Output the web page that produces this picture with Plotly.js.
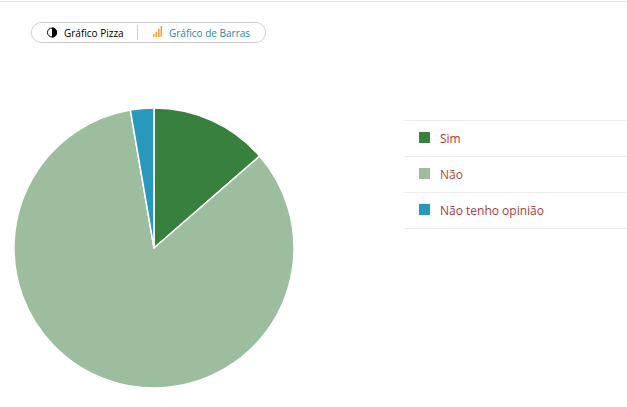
<!DOCTYPE html>
<html>
<head>
<meta charset="utf-8">
<script src="https://cdn.plot.ly/plotly-3.0.1.min.js"></script>
<style>html,body{margin:0;padding:0;background:#fff;overflow:hidden}#c{width:627px;height:407px}</style>
</head>
<body>
<div id="c"></div>
<script>
var categories = ["Sim", "Não", "Não tenho opinião"];
var values = [13.6, 83.7, 2.7];
var colors = ["#38803d", "#9cbe9e", "#2898bc"];
var labelColors = ["#c5302f", "#b0492f", "#b03a3a"];
var toolbarLabels = ["Gráfico Pizza", "Gráfico de Barras"];
var barIconHeights = [3, 5, 8, 11];

var W = 627, H = 407;
function px(x){return x / W;}
function py(y){return 1 - y / H;}
function P(x,y){return px(x).toFixed(5) + "," + py(y).toFixed(5);}
function paperShape(o){o.xref = "paper"; o.yref = "paper"; o.layer = o.layer || "above"; return o;}
function hline(x0,x1,y,color,w){
  return paperShape({type:"line",x0:px(x0),x1:px(x1),y0:py(y),y1:py(y),line:{color:color,width:w}});
}
function rect(x0,y0,x1,y1,color){
  return paperShape({type:"rect",x0:px(x0),x1:px(x1),y0:py(y0),y1:py(y1),fillcolor:color,line:{width:0}});
}
function pill(x0,y0,x1,y1){
  var r=(y1-y0)/2;
  var d="M"+P(x0+r,y0)+" L"+P(x1-r,y0)+" C"+P(x1-r*0.45,y0)+" "+P(x1,y0+r*0.45)+" "+P(x1,y0+r)+
        " C"+P(x1,y1-r*0.45)+" "+P(x1-r*0.45,y1)+" "+P(x1-r,y1)+" L"+P(x0+r,y1)+
        " C"+P(x0+r*0.45,y1)+" "+P(x0,y1-r*0.45)+" "+P(x0,y0+r)+
        " C"+P(x0,y0+r*0.45)+" "+P(x0+r*0.45,y0)+" "+P(x0+r,y0)+" Z";
  return paperShape({type:"path",path:d,line:{color:"#cfcfcf",width:1},fillcolor:"#fff"});
}
function halfDisc(cx,cy,r,side,color){
  var k=0.5523*r, s=side;
  var d="M"+P(cx,cy-r)+" C"+P(cx+s*k,cy-r)+" "+P(cx+s*r,cy-k)+" "+P(cx+s*r,cy)+
        " C"+P(cx+s*r,cy+k)+" "+P(cx+s*k,cy+r)+" "+P(cx,cy+r)+" Z";
  return paperShape({type:"path",path:d,line:{width:0},fillcolor:color});
}

var shapes = [
  hline(0,W,1.5,"#e4e4e4",1),
  pill(31.5,22.5,265.5,42.5)
];
shapes.push(paperShape({type:"line",x0:px(137.5),x1:px(137.5),y0:py(25),y1:py(40),line:{color:"#d0d0d0",width:1}}));
shapes.push(halfDisc(52,32.5,5,1,"#000"));
shapes.push(paperShape({type:"circle",x0:px(47.5),x1:px(56.5),y0:py(28),y1:py(37),line:{color:"#000",width:1},fillcolor:"rgba(0,0,0,0)"}));
barIconHeights.forEach(function(h,i){
  shapes.push(rect(153+i*2.5,37-h,154.6+i*2.5,37,"#f5a33c"));
});

var rowTop = 120.5, rowH = 36;
var annotations = [];
function text(x,y,t,color,size){
  annotations.push({xref:"paper",yref:"paper",x:px(x),y:py(y),xanchor:"left",yanchor:"middle",
    text:t,showarrow:false,borderpad:0,font:{family:"Open Sans, sans-serif",size:size,color:color}});
}
shapes.push(hline(404,W,rowTop,"#ececec",1));
categories.forEach(function(c,i){
  var top = rowTop + i*rowH;
  shapes.push(hline(404,W,top+rowH,"#ececec",1));
  shapes.push(rect(419,top+11.5,430,top+22.5,colors[i]));
  text(438.5,top+18,c,labelColors[i],12);
});
text(62.7,32.5,toolbarLabels[0],"#000",10);
text(167.5,32.5,toolbarLabels[1],"#2a86a8",10);

Plotly.newPlot("c",[{
  type:"pie",
  labels:categories,
  values:values,
  sort:false,
  direction:"clockwise",
  rotation:0,
  textinfo:"none",
  hoverinfo:"label+percent",
  marker:{colors:colors,line:{color:"#fff",width:1.5}},
  domain:{x:[px(14),px(294)],y:[py(388),py(108)]}
}],{
  width:W,height:H,
  margin:{l:0,r:0,t:0,b:0},
  paper_bgcolor:"#fff",
  showlegend:false,
  shapes:shapes,
  annotations:annotations
},{displayModeBar:false,staticPlot:true});
</script>
</body>
</html>
